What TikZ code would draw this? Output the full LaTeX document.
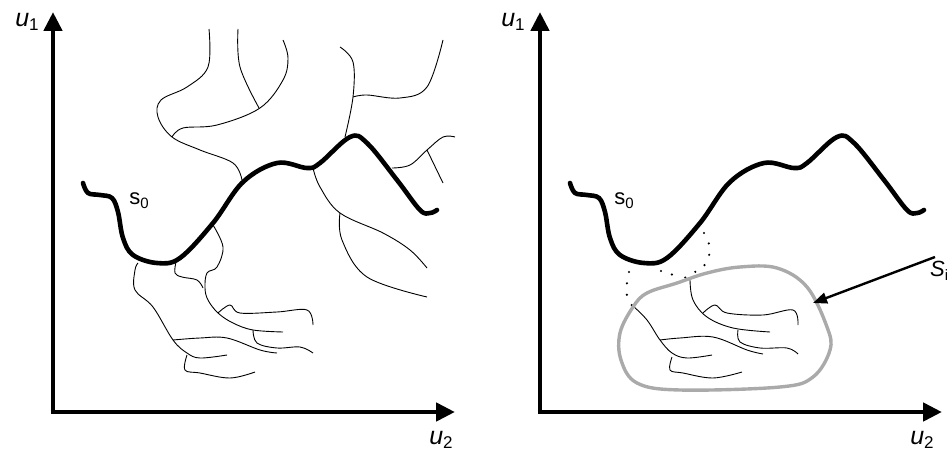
\documentclass[tikz,border=0pt]{standalone}
\usepackage{fontspec}
\setmainfont{Liberation Sans}
\usetikzlibrary{arrows.meta}
\tikzset{
  axis/.style={line width=4.6pt,-{Triangle[length=19pt,width=18pt]}},
  thick curve/.style={line width=4.6pt,line cap=round},
  thin/.style={line width=0.9pt},
  blob/.style={line width=3.4pt,draw={rgb,255:red,170;green,170;blue,170}},
  dots/.style={line width=2.4pt,line cap=round,dash pattern=on 0pt off 11.5pt},
  lbl/.style={inner sep=0pt,font=\fontsize{25}{27}\selectfont},
  slbl/.style={inner sep=0pt,font=\fontsize{22}{24}\selectfont},
}
\newcommand{\uu}[1]{\textit{u}\raisebox{-0.35ex}{\fontsize{17}{18}\selectfont #1}}
\begin{document}
\begin{tikzpicture}[x=1pt,y=-1pt]
\useasboundingbox (0,0) rectangle (947,452);
% ---------- left panel ----------
\coordinate (LO) at (53,412);
\coordinate (LY) at (53,12);
\coordinate (LX) at (455,412);
\draw[axis] (LO) -- (LY);
\draw[axis] ([xshift=-2.3pt]LO) -- (LX);
\node[lbl] (lu1) at (27,22) {\uu{1}};
\node[lbl] (lu2) at (441,440) {\uu{2}};
% thin branches
\draw[thin] plot[smooth,tension=0.6] coordinates {(209,29) (208,67) (187,87) (161,100) (158,117) (172,137) (200,150) (233,163) (242,180)};
\draw[thin] plot[smooth,tension=0.6] coordinates {(172,137) (183,128) (217,125) (260,108) (283,80) (288,58) (283,40)};
\draw[thin] plot[smooth,tension=0.6] coordinates {(238,29) (240,67) (259,108)};
\draw[thin] plot[smooth,tension=0.6] coordinates {(340,47) (353,62) (353,97) (345,137)};
\draw[thin] plot[smooth,tension=0.6] coordinates {(353,97) (367,95) (400,98) (427,87) (443,40)};
\draw[thin] plot[smooth,tension=0.6] coordinates {(392,168) (410,165) (427,150) (443,137) (455,137)};
\draw[thin] plot[smooth,tension=0.6] coordinates {(427,150) (443,183)};
\draw[thin] plot[smooth,tension=0.6] coordinates {(313,168) (320,187) (340,213) (383,233) (410,250) (427,268)};
\draw[thin] plot[smooth,tension=0.6] coordinates {(340,213) (342,240) (367,277) (427,297)};
\draw[thin] plot[smooth,tension=0.6] coordinates {(213,225) (223,247) (217,267) (207,273) (205,288) (208,300) (218,313) (233,323) (253,330) (283,332)};
\draw[thin] plot[smooth,tension=0.6] coordinates {(176,262) (175,273) (182,277) (197,280) (203,288)};
\draw[thin] plot[smooth,tension=0.6] coordinates {(138,263) (135,270) (135,290) (153,307) (173,340) (187,353) (200,358) (227,355)};
\draw[thin] plot[smooth,tension=0.6] coordinates {(173,340) (200,338) (227,338) (260,350) (277,353)};
\draw[thin] plot[smooth,tension=0.6] coordinates {(187,355) (185,370) (200,373) (230,378) (255,372)};
\draw[thin] plot[smooth,tension=0.6] coordinates {(218,313) (230,305) (240,313) (277,312) (307,310) (313,325)};
\draw[thin] plot[smooth,tension=0.6] coordinates {(253,330) (257,343) (277,348) (300,347) (313,353)};
% thick curve
\draw[thick curve] plot[smooth,tension=0.6] coordinates {(83,183) (88,193) (100,195) (112,198) (118,212) (123,238) (133,255) (157,263) (180,258) (213,223) (243,182) (277,163) (307,168) (320,163) (350,137) (367,143) (397,180) (420,210) (430,213) (437,210)};
\node[slbl] (ls0) at (139,201) {s\raisebox{-0.35ex}{\fontsize{15}{16}\selectfont 0}};
% ---------- right panel ----------
\coordinate (RO) at (540,412);
\coordinate (RY) at (540,12);
\coordinate (RX) at (942,412);
\draw[axis] (RO) -- (RY);
\draw[axis] ([xshift=-2.3pt]RO) -- (RX);
\node[lbl] (ru1) at (513,22) {\uu{1}};
\node[lbl] (ru2) at (922,440) {\uu{2}};
\begin{scope}[xshift=487pt]
\draw[thick curve] plot[smooth,tension=0.6] coordinates {(83,183) (88,193) (100,195) (112,198) (118,212) (123,238) (133,255) (157,263) (180,258) (213,223) (243,182) (277,163) (307,168) (320,163) (350,137) (367,143) (397,180) (420,210) (430,213) (437,210)};
\end{scope}
\node[slbl] (rs0) at (624,201) {s\raisebox{-0.35ex}{\fontsize{15}{16}\selectfont 0}};
% dotted links
\draw[dots] plot[smooth,tension=0.6] coordinates {(704,233) (709,244) (709,256) (703,267) (693,273) (681,280)};
\draw[dots] plot[smooth,tension=0.6] coordinates {(629,272) (627,283) (627,296) (633,307)};
\draw[dots] plot[smooth,tension=0.6] coordinates {(661,271) (671,274) (681,280)};
% thin branches in blob
\draw[thin] plot[smooth,tension=0.6] coordinates {(633,306) (647,320) (660,340) (672,353) (687,358) (712,355)};
\draw[thin] plot[smooth,tension=0.6] coordinates {(690,280) (693,300) (707,317) (733,328) (770,332)};
\draw[thin] plot[smooth,tension=0.6] coordinates {(703,313) (715,305) (727,313) (763,315) (793,310) (798,325)};
\draw[thin] plot[smooth,tension=0.6] coordinates {(660,340) (680,338) (713,337) (747,350) (763,354)};
\draw[thin] plot[smooth,tension=0.6] coordinates {(738,330) (740,342) (760,348) (787,348) (798,354)};
\draw[thin] plot[smooth,tension=0.6] coordinates {(672,357) (670,370) (683,373) (713,378) (742,372)};
% blob
\draw[blob] plot[smooth cycle,tension=0.6] coordinates {(633,307) (620,333) (621,360) (637,383) (680,390) (780,387) (813,377) (830,350) (827,327) (807,287) (777,268) (740,267) (707,273) (677,283) (647,293)};
% arrow with label
\coordinate (S) at (935,257);
\node[slbl,anchor=north west] (Slbl) at (930,261) {\textit{S}\raisebox{-0.35ex}{\fontsize{15}{16}\selectfont i}};
\draw[line width=2.4pt,-{Triangle[length=14pt,width=11pt]}] (S) -- (813,303);
\end{tikzpicture}
\end{document}
